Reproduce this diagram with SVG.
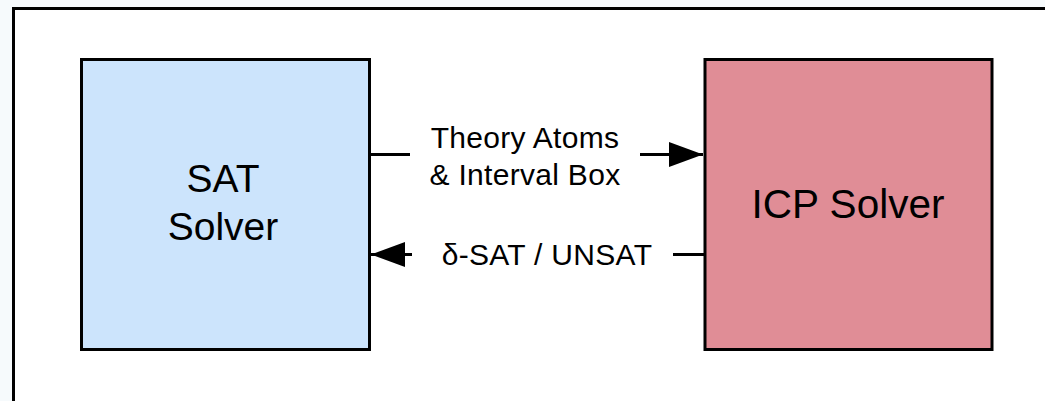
<svg xmlns="http://www.w3.org/2000/svg" width="1045" height="401" viewBox="0 0 1045 401">
  <style>
    .box { stroke: #000; stroke-width: 3; }
    .lbl { font-family: "Liberation Sans", Arial, sans-serif; fill: #000; text-anchor: middle; }
    .edge-lbl { font-size: 30px; letter-spacing: 0.3px; }
    .edge { stroke: #000; stroke-width: 3; fill: none; }
  </style>
  <defs>
    <marker id="head" markerUnits="userSpaceOnUse" markerWidth="36" markerHeight="26" refX="34" refY="12.5" orient="auto">
      <path d="M0,0 L34,12.5 L0,25 Z" fill="#000"/>
    </marker>
  </defs>

  <!-- page backdrop and frame -->
  <rect x="0" y="0" width="1045" height="401" fill="#f6fafc"/>
  <rect x="13.5" y="8.5" width="1060" height="420" fill="#fff" stroke="#000" stroke-width="3"/>

  <g id="sat-solver">
    <rect class="box" x="81.5" y="59.5" width="288" height="290" fill="#cce4fc"/>
    <text class="lbl" x="223" y="192" font-size="39">SAT</text>
    <text class="lbl" x="223" y="240" font-size="39">Solver</text>
  </g>

  <g id="icp-solver">
    <rect class="box" x="705" y="59.5" width="287" height="290" fill="#e08d96"/>
    <text class="lbl" x="848" y="218" font-size="40.5">ICP Solver</text>
  </g>

  <g id="connectors">
    <!-- SAT -> ICP -->
    <line class="edge" x1="369" y1="154.5" x2="410" y2="154.5"/>
    <line class="edge" x1="640" y1="154.5" x2="703" y2="154.5" marker-end="url(#head)"/>
    <text class="lbl edge-lbl" x="525" y="148">Theory Atoms</text>
    <text class="lbl edge-lbl" x="525" y="185">&amp; Interval Box</text>
    <!-- ICP -> SAT -->
    <line class="edge" x1="705" y1="254.5" x2="673" y2="254.5"/>
    <line class="edge" x1="412" y1="254.5" x2="371" y2="254.5" marker-end="url(#head)"/>
    <text class="lbl edge-lbl" x="547" y="265">δ-SAT / UNSAT</text>
  </g>
</svg>
